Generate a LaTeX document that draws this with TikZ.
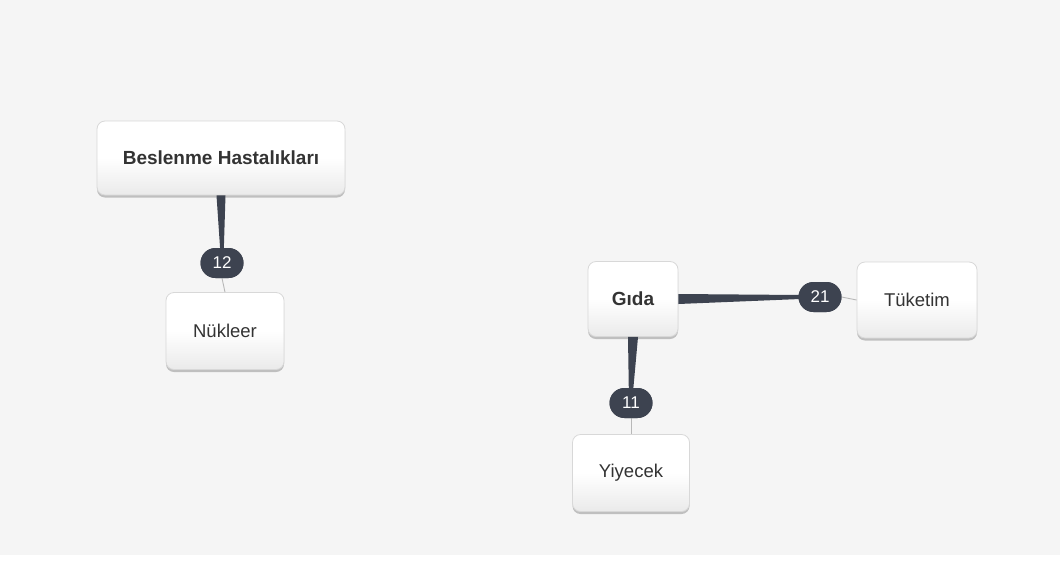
\documentclass[tikz,border=0pt]{standalone}
\usepackage{fontspec}
\setmainfont{Liberation Sans}
\usetikzlibrary{calc,shadows,shapes.misc}
\definecolor{bg}{HTML}{F5F5F5}
\definecolor{boxline}{HTML}{D8D8D8}
\definecolor{boxbot}{HTML}{EAEAEA}
\definecolor{badge}{HTML}{3D4350}
\definecolor{txt}{HTML}{333333}
\definecolor{thin}{HTML}{B8B8B8}
\tikzset{
  box/.style={draw=boxline, line width=0.8pt, rounded corners=8pt, top color=white, bottom color=boxbot, middle color=white,
    drop shadow={shadow xshift=0pt, shadow yshift=-2.5pt, opacity=0.22, fill=black},
    text=txt, font=\fontsize{18.5}{22}\selectfont, inner sep=0pt, anchor=center},
  boldtext/.style={font=\fontsize{19}{22}\selectfont\bfseries},
  badgebox/.style={fill=badge, text=white, rounded rectangle, minimum width=43pt, minimum height=30pt, inner sep=0pt, font=\fontsize{17}{20}\selectfont},
  wedge/.style={fill=badge},
  thinline/.style={draw=thin, line width=0.9pt}
}
\begin{document}
\begin{tikzpicture}[x=1pt,y=-1pt]
\useasboundingbox (0,0) rectangle (1060,568);
\fill[bg] (0,0) rectangle (1060,555);
\fill[white] (0,555) rectangle (1060,568);
% nodes
\node[box, boldtext, minimum width=248pt, minimum height=74pt] (bh) at (221,158) {Beslenme Hastalıkları};
\node[box, minimum width=118pt, minimum height=77pt] (nk) at (225,331) {Nükleer};
\node[box, boldtext, minimum width=90pt, minimum height=75pt] (gd) at (633,299) {Gıda};
\node[box, minimum width=120pt, minimum height=76pt] (tk) at (917,300) {Tüketim};
\node[box, minimum width=117pt, minimum height=77pt] (yy) at (631,473) {Yiyecek};
% badges
\node[badgebox] (b12) at (222,263) {12};
\node[badgebox] (b21) at (820,297) {21};
\node[badgebox] (b11) at (631,403) {11};
% connectors: thin parts
\draw[thinline] (b12.south) -- (nk.north);
\draw[thinline] (b21.east) -- (tk.west);
\draw[thinline] (b11.south) -- (yy.north);
% wedges
\fill[wedge] ($(bh.south)+(-4.5,0)$) -- ($(bh.south)+(4.5,0)$) -- ($(b12.north)+(1.8,2)$) -- ($(b12.north)+(-1.8,2)$) -- cycle;
\fill[wedge] ($(gd.east)+(0,-5)$) -- ($(gd.east)+(0,5)$) -- ($(b21.west)+(2,2)$) -- ($(b21.west)+(2,-2)$) -- cycle;
\fill[wedge] ($(gd.south)+(-5,0)$) -- ($(gd.south)+(5,0)$) -- ($(b11.north)+(2.2,2)$) -- ($(b11.north)+(-2.2,2)$) -- cycle;
\node[badgebox] at (b12) {12};
\node[badgebox] at (b21) {21};
\node[badgebox] at (b11) {11};
\end{tikzpicture}
\end{document}
